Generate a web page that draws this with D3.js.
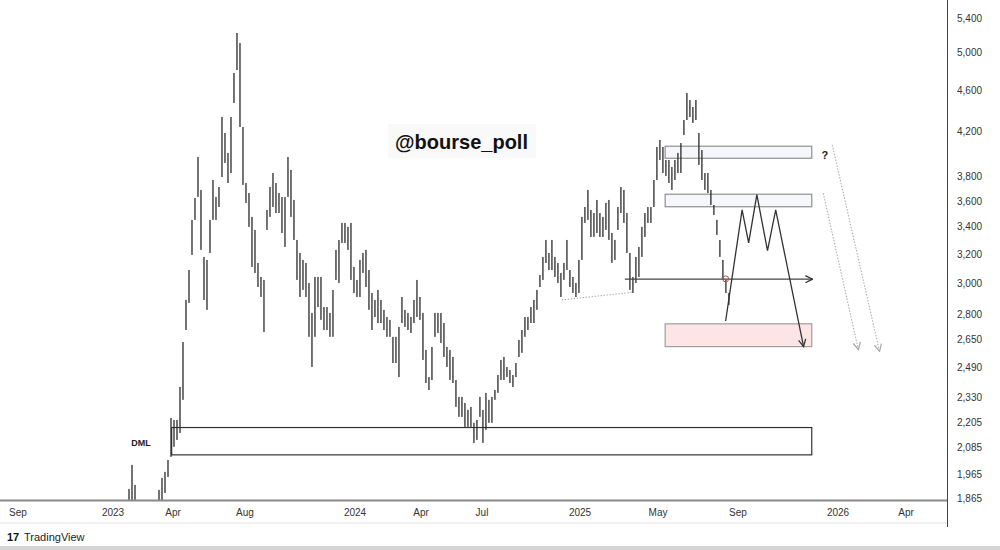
<!DOCTYPE html>
<html><head><meta charset="utf-8">
<script src="https://cdn.jsdelivr.net/npm/d3@7"></script>
<style>body{margin:0;background:#fff}svg{display:block}</style>
</head><body><svg id="c" width="1000" height="550"></svg>
<script>
// ---------- DATA ----------
const firstBarDate = "2023-01-25";
const lastBarDate = "2025-08-18";
const barHigh = [1903,2007,1920,1816,1796,1808,1796,1816,1824,1837,
1899,1950,1976,2029,2227,2217,2217,2385,2635,2892,
3090,3453,3625,3969,3690,3181,3160,3453,3772,3633,
3714,4337,4186,4005,4337,4781,5224,5109,4242,3747,
3665,3476,3377,3139,3043,3023,3530,3714,3831,3747,
3665,3633,3633,3969,3857,3609,3303,3209,3160,3139,
3003,2810,3043,3043,3043,2847,2847,2810,2957,3231,
3303,3430,3430,3400,3430,3111,3023,3160,3209,3231,
3090,2937,2892,2957,2892,2829,2785,2767,2665,2665,
2724,2911,2829,2810,2785,2892,3023,2911,2810,2589,
2438,2606,2810,2810,2810,2748,2606,2589,2549,2422,
2333,2333,2302,2267,2282,2203,2217,2333,2267,2354,
2318,2333,2369,2449,2532,2549,2493,2476,2449,2515,
2647,2706,2785,2785,2847,2892,2957,3056,3181,3303,
3209,3303,3181,3139,3070,3139,3303,3090,3043,3003,
3160,3476,3553,3690,3530,3506,3609,3506,3476,3585,
3609,3354,3303,3553,3714,3690,3506,3209,3043,3181,
3252,3400,3506,3553,3553,3772,4058,4122,4058,3943,
3943,3882,3943,4005,4094,4308,4574,4503,4434,4503,
4186,4031,3831,3831,3690,3569,3453,3303,3160,3023,
2937];
const barLow = [1837,1845,1837,1757,1737,1745,1737,1757,1769,1784,
1837,1845,1886,1954,2043,2089,2121,2154,2318,2706,
2873,3195,3453,3633,3231,2892,2829,3209,3453,3453,
3553,3797,3917,3747,3831,4474,4813,4242,3731,3585,
3400,3111,3070,2976,2911,2694,3377,3476,3553,3506,
3506,3354,3252,3633,3476,3303,3023,2911,2957,2911,
2665,2493,2665,2847,2767,2706,2706,2665,2665,3023,
3003,3281,3281,3231,3023,2937,2911,2911,3070,2976,
2829,2706,2785,2748,2748,2706,2665,2665,2515,2515,
2438,2748,2724,2706,2688,2748,2785,2767,2532,2406,
2369,2422,2665,2688,2629,2549,2493,2422,2406,2282,
2232,2232,2183,2183,2183,2107,2121,2232,2107,2169,
2203,2203,2318,2354,2422,2422,2438,2406,2385,2438,
2549,2572,2665,2706,2748,2748,2829,2976,3023,3139,
3090,3090,3043,3003,2911,3023,3090,2976,2937,2911,
2937,3160,3430,3453,3325,3325,3354,3325,3325,3377,
3303,3139,3160,3377,3506,3430,3209,2957,2937,3003,
3043,3181,3325,3430,3430,3553,3772,3943,3831,3806,
3747,3690,3772,3831,3831,4168,4308,4337,4280,4308,
3900,3772,3690,3665,3569,3491,3340,3181,3023,2937,
2860];

const xTickDates  = ["2022-09-01","2023-01-01","2023-04-01","2023-08-01","2024-01-01","2024-04-01","2024-07-01","2025-01-01","2025-05-01","2025-09-01","2026-01-01","2026-04-01"];
const xTickLabels = ["Sep","2023","Apr","Aug","2024","Apr","Jul","2025","May","Sep","2026","Apr"];
const yTicks = [5400,5000,4600,4200,3800,3600,3400,3200,3000,2800,2650,2490,2330,2205,2085,1965,1865];

// zones (rectangles)
const zoneStart  = ["2023-03-30","2025-05-12","2025-05-12","2025-05-12"];
const zoneEnd    = ["2025-11-30","2025-11-30","2025-11-30","2025-11-30"];
const zoneTop    = [2180,4065,3655,2743];
const zoneBottom = [2052,3958,3555,2608];
const zoneKind   = ["outline","light","light","pink"];

// projected zig-zag path
const zigDates  = ["2025-08-13","2025-09-06","2025-09-14","2025-09-24","2025-10-07","2025-10-17","2025-11-20"];
const zigPrices = [2760,3530,3281,3651,3225,3530,2608];

// horizontal level arrow
const levelDates = ["2025-03-11","2025-12-01"];
const levelPrice = 3028;

// dotted trend line between lows
const trendDates  = ["2024-11-28","2025-03-24"];
const trendPrices = [2892,2942];

// dashed projection arrows
const projStart = [["2025-12-25",4077],["2025-12-14",3663]];
const projEnd   = [["2026-02-25",2580],["2026-01-28",2590]];

const dmlLabel = ["DML","2023-02-12",2107];
const qLabel   = ["?","2025-12-16",3987];
const markPoint = ["2025-08-13",3030];

// ---------- LAYOUT ----------
const W=1000,H=550, axisX=947, plotBottom=500;
const parse = d3.timeParse("%Y-%m-%d");
const svg = d3.select("#c");
const FONT = "'Liberation Sans', Arial, sans-serif";

const x = d3.scaleTime()
  .domain(xTickDates.map(parse))
  .range([18,113,173,245,355,421,482,580,658,738,838,906]);
const y = d3.scaleLog().domain([1865,5400]).range([498,18]);

const n = barHigh.length;
const xb = d3.scaleLinear().domain([0,n-1]).range([x(parse(firstBarDate)), x(parse(lastBarDate))]);

const defs = svg.append("defs");
defs.append("clipPath").attr("id","plot").append("rect").attr("x",0).attr("y",0).attr("width",axisX).attr("height",plotBottom);
function marker(id,color,size){
  defs.append("marker").attr("id",id).attr("viewBox","0 0 10 10").attr("refX",9).attr("refY",5)
   .attr("markerWidth",size).attr("markerHeight",size).attr("markerUnits","userSpaceOnUse").attr("orient","auto")
   .append("path").attr("d","M1,1 L9,5 L1,9").attr("fill","none").attr("stroke",color).attr("stroke-width",1.4);
}
marker("arDark","#333",9);
marker("arGray","#aaa",9);

svg.append("rect").attr("width",W).attr("height",H).attr("fill","#fff");

// watermark
svg.append("rect").attr("x",388).attr("y",124).attr("width",148).attr("height",34).attr("fill","#f9f9f9");
svg.append("text").attr("x",395).attr("y",149).attr("font-family",FONT).attr("font-weight","bold")
  .attr("font-size",21).attr("fill","#111").attr("textLength",133).attr("lengthAdjust","spacingAndGlyphs").text("@bourse_poll");

const plot = svg.append("g").attr("clip-path","url(#plot)");

// zones
const zoneStyle = {outline:{fill:"none",stroke:"#333"},light:{fill:"#f6f7fb",stroke:"#8f8f8f"},pink:{fill:"#fde5e5",stroke:"#a0a0a0"}};
zoneStart.forEach((s,i)=>{
  const x0=x(parse(s)), x1=x(parse(zoneEnd[i])), y0=y(zoneTop[i]), y1=y(zoneBottom[i]);
  plot.append("rect").attr("x",x0).attr("y",y0).attr("width",x1-x0).attr("height",y1-y0)
    .attr("fill",zoneStyle[zoneKind[i]].fill).attr("stroke",zoneStyle[zoneKind[i]].stroke).attr("stroke-width",1.2);
});

// candles (high-low bars)
plot.append("g").selectAll("rect").data(barHigh).join("rect")
  .attr("x",(d,i)=>xb(i)-0.65).attr("width",1.3)
  .attr("y",d=>y(d)).attr("height",(d,i)=>Math.max(1,y(barLow[i])-y(d)))
  .attr("fill","#2b2b2b");

// dotted trend line
plot.append("line").attr("x1",x(parse(trendDates[0]))).attr("y1",y(trendPrices[0]))
  .attr("x2",x(parse(trendDates[1]))).attr("y2",y(trendPrices[1]))
  .attr("stroke","#888").attr("stroke-width",1).attr("stroke-dasharray","1,2");

// level arrow
plot.append("line").attr("x1",x(parse(levelDates[0]))).attr("x2",x(parse(levelDates[1])))
  .attr("y1",y(levelPrice)).attr("y2",y(levelPrice)).attr("stroke","#444").attr("stroke-width",1.3)
  .attr("marker-end","url(#arDark)");

// zigzag
const zl = d3.line().x(d=>x(parse(d[0]))).y(d=>y(d[1]));
plot.append("path").attr("d",zl(zigDates.map((d,i)=>[d,zigPrices[i]])))
  .attr("fill","none").attr("stroke","#333").attr("stroke-width",1.3).attr("marker-end","url(#arDark)");

// projection arrows
projStart.forEach((s,i)=>{
  plot.append("line").attr("x1",x(parse(s[0]))).attr("y1",y(s[1]))
   .attr("x2",x(parse(projEnd[i][0]))).attr("y2",y(projEnd[i][1]))
   .attr("stroke","#a8a8a8").attr("stroke-width",1).attr("stroke-dasharray","1.5,1.5")
   .attr("marker-end","url(#arGray)");
});

// mark circle
plot.append("circle").attr("cx",x(parse(markPoint[0]))).attr("cy",y(markPoint[1])).attr("r",3)
  .attr("fill","none").attr("stroke","#a55").attr("stroke-width",1);

// labels
plot.append("text").attr("x",x(parse(dmlLabel[1]))).attr("y",y(dmlLabel[2])).attr("dy","0.35em")
  .attr("text-anchor","middle").attr("font-family",FONT).attr("font-size",9).attr("font-weight","bold").attr("fill","#222").text(dmlLabel[0]);
plot.append("text").attr("x",x(parse(qLabel[1]))).attr("y",y(qLabel[2])).attr("dy","0.35em")
  .attr("text-anchor","middle").attr("font-family",FONT).attr("font-size",11).attr("font-weight","bold").attr("fill","#222").text(qLabel[0]);

// axes frame
svg.append("line").attr("x1",0).attr("x2",axisX).attr("y1",plotBottom+0.5).attr("y2",plotBottom+0.5).attr("stroke","#8a8a8a").attr("stroke-width",2);
svg.append("line").attr("x1",0).attr("x2",axisX).attr("y1",523).attr("y2",523).attr("stroke","#e4e4e4").attr("stroke-width",1);
svg.append("line").attr("x1",axisX+0.5).attr("x2",axisX+0.5).attr("y1",0).attr("y2",527).attr("stroke","#444").attr("stroke-width",1);
svg.append("rect").attr("x",0).attr("y",546).attr("width",W).attr("height",4).attr("fill","#d4d4d4");

// right axis
const fmt = d3.format(",");
svg.append("g").selectAll("text").data(yTicks).join("text")
  .attr("x",957).attr("y",d=>y(d)).attr("dy","0.35em")
  .attr("font-family",FONT).attr("font-size",10).attr("fill","#333").text(d=>fmt(d));

// bottom axis
svg.append("g").selectAll("text").data(xTickDates).join("text")
  .attr("x",d=>x(parse(d))).attr("y",512).attr("dy","0.35em").attr("text-anchor","middle")
  .attr("font-family",FONT).attr("font-size",10).attr("fill","#333").text((d,i)=>xTickLabels[i]);

// TradingView logo
svg.append("text").attr("x",7).attr("y",541).attr("font-family",FONT).attr("font-size",11).attr("font-weight","900").attr("fill","#111").text("17");
svg.append("text").attr("x",24).attr("y",541).attr("font-family",FONT).attr("font-size",11).attr("fill","#222").text("TradingView");
</script>
</body></html>
